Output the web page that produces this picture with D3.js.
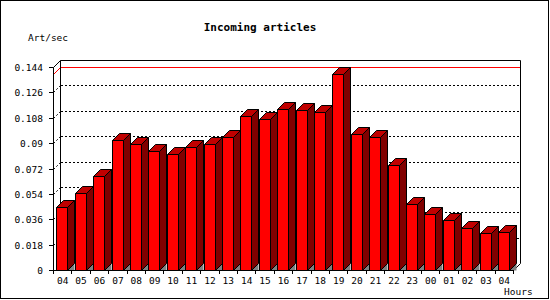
<!DOCTYPE html>
<html>
<head>
<meta charset="utf-8">
<script src="https://cdn.jsdelivr.net/npm/d3@7/dist/d3.min.js"></script>
<style>
html,body{margin:0;padding:0;background:#fff;}
svg{display:block;}
text{font-family:"DejaVu Sans Mono",monospace;fill:#000;}
</style>
</head>
<body>
<svg id="chart" width="550" height="300"></svg>
<script>
const hours = ["04","05","06","07","08","09","10","11","12","13","14","15","16","17","18","19","20","21","22","23","00","01","02","03","04"];
const values = [0.0445,0.0545,0.0666,0.0921,0.0893,0.0845,0.0822,0.0872,0.0895,0.0943,0.1092,0.1071,0.1142,0.1135,0.1120,0.1390,0.0964,0.0943,0.0744,0.0467,0.0396,0.0353,0.0296,0.0261,0.0268];
const yTicks = [0,0.018,0.036,0.054,0.072,0.09,0.108,0.126,0.144];
const yTickLabels = ["0","0.018","0.036","0.054","0.072","0.09","0.108","0.126","0.144"];
const chartTitle = "Incoming articles";
const yTitle = "Art/sec";
const xTitle = "Hours";

const svg = d3.select("#chart");
const pLeft = 53, pRight = 513, pBottom = 270, pTop = 67, depth = 7;
const idx = hours.map((h,i)=>i);
const x = d3.scaleBand().domain(idx).range([pLeft, pRight]).paddingInner(0).paddingOuter(0);
const y = d3.scaleLinear().domain([0, 0.144]).range([pBottom, pTop]);
const px = v => Math.round(v) + 0.5;

// outer border
svg.append("rect").attr("x",0.5).attr("y",0.5).attr("width",548).attr("height",298)
  .attr("fill","none").attr("stroke","#000");

// back wall grid lines (dotted)
const grid = svg.append("g");
yTicks.slice(1, -1).forEach(t => {
  const yy = px(y(t));
  grid.append("line").attr("x1", pLeft+0.5).attr("y1", yy).attr("x2", pLeft+depth+0.5).attr("y2", yy-depth)
    .attr("stroke","#000").attr("stroke-dasharray","2,2");
  grid.append("line").attr("x1", pLeft+depth+0.5).attr("y1", yy-depth).attr("x2", pRight+depth+0.5).attr("y2", yy-depth)
    .attr("stroke","#000").attr("stroke-dasharray","2,2").attr("shape-rendering","crispEdges");
});

// max line (red)
const maxV = d3.max(values);
const ym = px(y(maxV));
svg.append("line").attr("x1", pLeft+0.5).attr("y1", ym).attr("x2", pLeft+depth+0.5).attr("y2", ym-depth).attr("stroke","#f00");
svg.append("line").attr("x1", pLeft+depth+0.5).attr("y1", ym-depth).attr("x2", pRight+depth+0.5).attr("y2", ym-depth).attr("stroke","#f00").attr("shape-rendering","crispEdges");

// frame
const yTopPx = px(y(0.144));
const frame = svg.append("g").attr("fill","none").attr("stroke","#000");
frame.append("path").attr("d",
  `M${pLeft+0.5},${pBottom+0.5} L${pLeft+0.5},${yTopPx} L${pLeft+depth+0.5},${yTopPx-depth} L${pRight+depth+0.5},${yTopPx-depth} L${pRight+depth+0.5},${pBottom-depth+0.5} L${pRight+0.5},${pBottom+0.5}`);
frame.append("line").attr("x1",pLeft+depth+0.5).attr("y1",yTopPx-depth).attr("x2",pLeft+depth+0.5).attr("y2",pBottom-depth+0.5);

// bars
const bars = svg.append("g");
values.forEach((v,i) => {
  const x0 = Math.round(x(i) + 3.3) + 0.5;
  const x1 = x0 + 11;
  const yv = px(y(v));
  const yb = pBottom + 0.5;
  bars.append("polygon").attr("points", `${x1},${yb} ${x1+depth},${yb-depth} ${x1+depth},${yb}`).attr("fill","#808080");
  bars.append("polygon").attr("points", `${x0},${yv} ${x1},${yv} ${x1},${yb} ${x0},${yb}`).attr("fill","#ff0000").attr("stroke","#000");
  bars.append("polygon").attr("points", `${x0},${yv} ${x0+depth},${yv-depth} ${x1+depth},${yv-depth} ${x1},${yv}`).attr("fill","#c00000").attr("stroke","#000");
  bars.append("polygon").attr("points", `${x1},${yv} ${x1+depth},${yv-depth} ${x1+depth},${yb-depth} ${x1},${yb}`).attr("fill","#800000").attr("stroke","#000");
});

// baseline
svg.append("line").attr("x1",pLeft+0.5).attr("y1",pBottom+0.5).attr("x2",pRight+0.5).attr("y2",pBottom+0.5).attr("stroke","#000");

// y axis ticks/labels
const yAxisG = svg.append("g");
yTicks.forEach((t,i) => {
  const yy = px(y(t));
  yAxisG.append("line").attr("x1",pLeft-4).attr("y1",yy).attr("x2",pLeft+0.5).attr("y2",yy).attr("stroke","#000");
  yAxisG.append("text").attr("x",43).attr("y",yy+3.5).attr("text-anchor","end").attr("font-size","9.5px").text(yTickLabels[i]);
});

// x axis ticks/labels
const xAxisG = svg.append("g");
idx.concat([hours.length]).forEach(i => {
  const xx = i < hours.length ? px(x(i)) : px(pRight);
  xAxisG.append("line").attr("x1",xx).attr("y1",pBottom).attr("x2",xx).attr("y2",pBottom+4).attr("stroke","#000");
});
hours.forEach((h,i) => {
  xAxisG.append("text").attr("x", x(i)+x.bandwidth()/2+0.5).attr("y",284).attr("text-anchor","middle").attr("font-size","9.5px").text(h);
});

// titles
svg.append("text").attr("x",260).attr("y",31).attr("text-anchor","middle").attr("font-size","11px").attr("font-weight","bold").text(chartTitle);
svg.append("text").attr("x",28).attr("y",41).attr("font-size","9.5px").text(yTitle);
svg.append("text").attr("x",504).attr("y",295).attr("font-size","9.5px").text(xTitle);
</script>
</body>
</html>
